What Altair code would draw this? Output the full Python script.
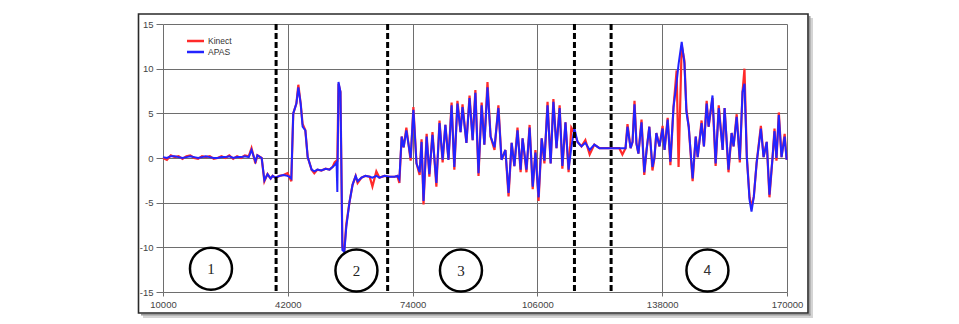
import altair as alt
import pandas as pd

# ---- data ----
x_values = [
    10000, 11000, 12000, 13000, 14000, 15000, 16000, 17000, 18000, 19000, 20000, 21000,
    22000, 23000, 24000, 25000, 26000, 27000, 28000, 29000, 30000, 31000, 32000,
    32700, 33700, 34200, 35300, 36000, 36800, 37600, 38100, 38800, 39900,
    40900, 41900, 42400, 42900, 43400, 44200, 44700, 45300, 45800, 46500,
    47100, 48100, 48800, 49600, 50600, 51700, 52700, 53500, 54000, 54500,
    54700, 55000, 55500, 56000, 56500, 57000, 57800, 58600, 59400, 59900,
    60900, 61900, 63000, 63700, 64700, 65500, 66800, 68100, 69400, 70100,
    70600, 71200, 71700, 72400, 73500, 74200, 75000, 75800, 76300, 76800,
    77600, 78300, 79100, 80100, 80900, 81700, 82400, 83200, 84000, 84700,
    85500, 86300, 86800, 87800, 88600, 89400, 90100, 90900, 91700, 92400,
    93200, 94000, 95000, 96000, 96800, 97800, 98600, 99400, 100100, 100900,
    101700, 102200, 103200, 104000, 104800, 105500, 106300, 107100, 107800, 108600,
    109400, 110100, 110900, 111700, 112400, 113200, 114000, 114700, 115500, 116300,
    117300, 118300, 119400, 120600, 121900, 123200, 124500, 125800, 127000, 127800,
    128600, 129100, 129900, 130400, 130900, 131400, 131900, 132700, 133400, 134000,
    134700, 135500, 136000, 136500, 137300, 138100, 138600, 139400, 140100, 140900,
    141700, 142200, 143000, 143700, 144200, 144800, 145800, 146600, 147100, 148100,
    148700, 149400, 149900, 150900, 151700, 152500, 153500, 154000, 155000, 155800,
    156300, 157100, 157900, 158600, 159100, 159700, 160400, 160900, 161500, 162200,
    163300, 164000, 164800, 165500, 166300, 166800, 167300, 167900, 168600, 169400,
    169900,
]

apas = [
    0.1, 0.0, 0.2, 0.2, 0.1, 0.0, 0.1, 0.2, 0.1, 0.0, 0.1, 0.2,
    0.1, 0.0, 0.0, 0.1, 0.1, 0.2, 0.0, 0.1, 0.1, 0.2, 0.1,
    0.9, -0.4, 0.3, 0.0, -2.5, -1.8, -2.3, -2.0, -2.2, -2.0,
    -1.9, -2.0, -2.1, -2.3, 5.0, 6.1, 7.9, 6.1, 3.5, 3.1,
    0.1, -1.3, -1.5, -1.3, -1.4, -1.2, -1.3, -1.0, -0.8, -0.5,
    -3.8, 8.5, 7.4, -10.3, -10.5, -7.7, -5.0, -3.0, -2.0, -2.6,
    -2.2, -2.0, -2.1, -2.2, -2.0, -2.2, -2.0, -2.1, -2.1, -2.0,
    -2.4, 2.4, 1.2, 3.1, 0.0, 5.4, -0.6, -1.6, 1.8, -4.8,
    2.4, -1.8, 2.6, -2.8, 3.9, -0.2, 3.7, -0.2, 5.9, -1.0,
    6.1, 2.9, 5.7, 1.7, 6.7, 2.0, 7.3, -1.7, 5.9, 1.5,
    7.9, 2.4, 1.2, 5.6, -0.2, 0.9, -3.9, 1.7, -0.9, 3.1,
    -1.3, 2.2, -1.3, 3.4, -3.2, 0.6, -4.4, 2.2, -0.3, 5.9,
    -0.6, 6.3, 1.1, 5.6, -0.9, 4.0, -1.3, 1.2, 3.3, 1.8,
    1.3, 1.7, 0.9, 1.5, 1.1, 1.1, 1.1, 1.1, 1.1, 1.1,
    1.1, 3.5, 1.1, 1.8, 6.0, 1.6, 0.5, 4.0, -1.6, 0.9,
    3.5, -1.0, 0.0, 2.8, 1.3, 3.3, 0.9, 4.3, -0.4, 5.7,
    8.5, 10.5, 13.0, 10.6, 5.2, 3.5, -2.3, 2.4, 0.1, 3.9,
    1.3, 6.1, 3.5, 7.0, -0.6, 5.6, 0.9, 5.6, -1.3, 2.8,
    1.3, 4.6, -0.2, 7.4, 8.3, 0.1, -4.7, -6.0, -4.3, -0.6,
    3.3, 0.1, 1.8, -4.1, 0.1, 3.0, 0.0, 4.8, 0.1, 2.4,
    -0.2,
]

kinect = [
    0.0, -0.2, 0.3, 0.1, 0.2, -0.1, 0.2, 0.3, 0.0, -0.1, 0.2, 0.1,
    0.2, -0.1, 0.0, 0.2, 0.0, 0.3, -0.1, 0.2, 0.0, 0.3, 0.2,
    1.1, -0.6, 0.3, 0.0, -2.6, -1.8, -2.3, -2.0, -2.2, -2.0,
    -1.9, -1.7, -2.1, -2.6, 5.0, 6.1, 8.2, 6.1, 3.8, 3.1,
    0.1, -1.3, -1.7, -1.3, -1.4, -1.2, -1.3, -1.0, -0.5, -0.3,
    -0.3, 8.3, 7.4, -10.0, -10.2, -7.4, -5.0, -3.0, -2.0, -2.8,
    -2.2, -2.0, -2.1, -3.2, -1.5, -2.2, -2.0, -2.1, -2.1, -2.0,
    -2.8, 2.4, 1.2, 3.4, -0.3, 5.7, -0.6, -1.9, 2.1, -5.2,
    2.7, -2.1, 2.9, -3.2, 4.2, -0.5, 3.7, -0.2, 6.2, -1.3,
    6.4, 2.9, 6.0, 1.7, 7.0, 2.0, 7.6, -2.0, 6.2, 1.5,
    8.5, 2.4, 0.9, 5.9, -0.2, 0.9, -4.3, 1.7, -0.9, 3.4,
    -1.6, 2.2, -1.6, 3.7, -3.5, 0.9, -4.8, 2.2, -0.6, 6.3,
    -0.6, 6.6, 1.1, 5.9, -1.2, 4.0, -1.6, 3.4, 2.8, 1.8,
    1.3, 2.0, 0.4, 1.5, 1.1, 1.1, 1.1, 1.1, 1.1, 0.4,
    1.1, 3.8, 1.1, 1.8, 6.4, 1.6, 0.5, 4.3, -1.9, 0.9,
    3.5, -1.4, 0.0, 2.8, 1.3, 3.6, 0.9, 4.5, -0.8, 5.7,
    9.8, -1.0, 12.6, 10.9, 5.5, 3.5, -2.6, 2.4, 0.1, 4.2,
    1.3, 6.4, 3.5, 6.7, -0.9, 5.9, 0.9, 5.6, -1.6, 2.8,
    1.3, 4.9, -0.5, 7.4, 10.0, 0.1, -4.4, -5.5, -4.3, -0.6,
    3.6, 0.1, 1.8, -4.4, 0.1, 3.3, -0.3, 5.1, 0.1, 2.7,
    -0.2,
]

divider_x = [39000, 67600, 115500, 124900]
phase_labels = ["1", "2", "3", "4"]
phase_x = [22300, 59600, 86400, 149600]
phase_y = [-12.4, -12.6, -12.6, -12.6]
x_ticks = [10000, 42000, 74000, 106000, 138000, 170000]
y_ticks = [-15, -10, -5, 0, 5, 10, 15]
legend_names = ["Kinect", "APAS"]
legend_colors = ["#ff2a2a", "#2323ff"]

assert len(x_values) == len(apas) == len(kinect)

signal = pd.DataFrame({"x": x_values, "Kinect": kinect, "APAS": apas})
dividers = pd.DataFrame({"x": divider_x})
phases = pd.DataFrame({"label": phase_labels, "x": phase_x, "y": phase_y})
one = pd.DataFrame({"a": [0]})

W, H = 624, 268
xscale = alt.Scale(domain=[10000, 170000], nice=False, zero=False)
yscale = alt.Scale(domain=[-15, 15], nice=False, zero=False)

axis_common = dict(
    grid=True, gridColor="#6e6e6e", gridWidth=1, domain=False, title=None,
    tickColor="#6e6e6e", labelFont="Liberation Sans", labelFontSize=9.5,
    labelColor="#444444", labelExpr="'' + datum.value", labelFlush=False,
)
x_axis = alt.Axis(values=x_ticks, tickSize=4, labelPadding=3, **axis_common)
y_axis = alt.Axis(values=y_ticks, tickSize=7, labelPadding=3, **axis_common)


def X(field):
    return alt.X(field, type="quantitative", scale=xscale, axis=x_axis, title=None)


def Y(field):
    return alt.Y(field, type="quantitative", scale=yscale, axis=y_axis, title=None)


# frame and shadow strips (pixel positions relative to plot origin)
shadow_r2 = alt.Chart(one).mark_rect(fill="#d4d4d4").encode(
    x=alt.value(645.8), x2=alt.value(650), y=alt.value(-6), y2=alt.value(294))
shadow_b2 = alt.Chart(one).mark_rect(fill="#d4d4d4").encode(
    x=alt.value(-20), x2=alt.value(650), y=alt.value(289.8), y2=alt.value(294))
shadow_r1 = alt.Chart(one).mark_rect(fill="#9a9a9a").encode(
    x=alt.value(645.8), x2=alt.value(647.5), y=alt.value(-8), y2=alt.value(291.5))
shadow_b1 = alt.Chart(one).mark_rect(fill="#9a9a9a").encode(
    x=alt.value(-22), x2=alt.value(647.5), y=alt.value(289.8), y2=alt.value(291.5))
frame = alt.Chart(one).mark_rect(fill=None, stroke="#2a2a2a", strokeWidth=1.6).encode(
    x=alt.value(-24.5), x2=alt.value(645), y=alt.value(-10), y2=alt.value(289))

base = alt.Chart(signal)
kin_line = base.mark_line(color=legend_colors[0], strokeWidth=2.2).encode(
    x=X("x"), y=Y("Kinect"))
apas_line = base.mark_line(color=legend_colors[1], strokeWidth=2).encode(
    x=X("x"), y=Y("APAS"))

dash = alt.Chart(dividers).mark_rule(color="black", strokeWidth=3, strokeDash=[6, 3]).encode(
    x=X("x"), y=alt.value(0), y2=alt.value(H - 1))

circles = alt.Chart(phases).mark_point(
    shape="circle", filled=False, size=1764, strokeWidth=2.5, color="black", opacity=1
).encode(x=X("x"), y=Y("y"))
serif_txt = alt.Chart(phases).transform_filter("datum.label != '4'").mark_text(
    font="Liberation Serif", fontSize=15, color="#222222", baseline="middle", align="center"
).encode(x=X("x"), y=Y("y"), text="label:N")
sans_txt = alt.Chart(phases).transform_filter("datum.label == '4'").mark_text(
    font="Liberation Sans", fontSize=14, color="#333333", baseline="middle", align="center"
).encode(x=X("x"), y=Y("y"), text="label:N")

# manual legend
leg_k = alt.Chart(one).mark_rule(color=legend_colors[0], strokeWidth=2.5).encode(
    x=alt.value(24), x2=alt.value(41), y=alt.value(17))
leg_a = alt.Chart(one).mark_rule(color=legend_colors[1], strokeWidth=2.5).encode(
    x=alt.value(24), x2=alt.value(41), y=alt.value(28))
leg_kt = alt.Chart(one).mark_text(font="Liberation Sans", fontSize=8.5, color="#333333",
                                  align="left", baseline="middle", text=legend_names[0]).encode(
    x=alt.value(45), y=alt.value(17))
leg_at = alt.Chart(one).mark_text(font="Liberation Sans", fontSize=8.5, color="#333333",
                                  align="left", baseline="middle", text=legend_names[1]).encode(
    x=alt.value(45), y=alt.value(28))

chart = alt.layer(
    kin_line, apas_line, dash, circles, serif_txt, sans_txt,
    shadow_r2, shadow_b2, shadow_r1, shadow_b1, frame,
    leg_k, leg_a, leg_kt, leg_at,
).properties(
    width=W, height=H,
    autosize=alt.AutoSizeParams(type="none"),
    padding={"left": 163, "top": 24, "right": 172, "bottom": 32},
    background="white",
).configure_view(stroke=None)

chart.save("out.html", embed_options={"renderer": "svg", "actions": False})
